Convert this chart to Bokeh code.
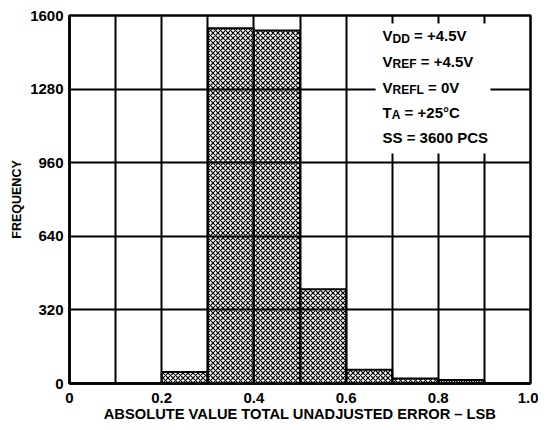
from bokeh.plotting import figure
from bokeh.models import FixedTicker, BoxAnnotation, Label, Range1d
from bokeh.embed import file_html
from bokeh.resources import INLINE

# ---- data ----
bin_left = [0.0, 0.1, 0.2, 0.3, 0.4, 0.5, 0.6, 0.7, 0.8, 0.9]
bin_right = [0.1, 0.2, 0.3, 0.4, 0.5, 0.6, 0.7, 0.8, 0.9, 1.0]
frequency = [0, 0, 50, 1545, 1535, 410, 60, 22, 15, 0]
x_ticks = [0.0, 0.2, 0.4, 0.6, 0.8, 1.0]
x_tick_labels = ["0", "0.2", "0.4", "0.6", "0.8", "1.0"]
x_grid = [0.1, 0.2, 0.3, 0.4, 0.5, 0.6, 0.7, 0.8, 0.9]
y_ticks = [0, 320, 640, 960, 1280, 1600]

FONT = "Liberation Sans"

p = figure(width=538, height=424, output_backend="svg", toolbar_location=None,
           x_range=Range1d(0, 1.0), y_range=Range1d(0, 1600),
           min_border_left=69, min_border_right=8, min_border_top=15, min_border_bottom=40)

p.quad(left=bin_left, right=bin_right, top=frequency, bottom=0,
       fill_color="white", line_color="black", line_width=2,
       hatch_pattern="diagonal_cross", hatch_color="black", hatch_scale=5, hatch_weight=1.2)

p.outline_line_color = "black"
p.outline_line_width = 2.5

# axes
p.xaxis.ticker = FixedTicker(ticks=x_ticks)
p.xaxis.major_label_overrides = {t: l for t, l in zip(x_ticks, x_tick_labels)}
p.yaxis.ticker = FixedTicker(ticks=y_ticks)
for ax in (p.xaxis, p.yaxis):
    ax.major_tick_line_color = None
    ax.minor_tick_line_color = None
    ax.major_tick_out = 0
    ax.major_tick_in = 0
    ax.minor_tick_out = 0
    ax.minor_tick_in = 0
    ax.axis_line_color = "black"
    ax.axis_line_width = 2.5
    ax.major_label_text_font = FONT
    ax.major_label_text_font_style = "bold"
    ax.major_label_text_font_size = "15px"
    ax.major_label_text_color = "black"
    ax.axis_label_text_font = FONT
    ax.axis_label_text_font_style = "bold"
    ax.axis_label_text_color = "black"

p.xaxis.axis_label = "ABSOLUTE VALUE TOTAL UNADJUSTED ERROR \u2013 LSB"
p.xaxis.axis_label_text_font_size = "14.7px"
p.xaxis.major_label_standoff = 9
p.xaxis.axis_label_standoff = 0
p.yaxis.axis_label = "FREQUENCY"
p.yaxis.axis_label_text_font_size = "12.5px"
p.yaxis.major_label_standoff = 6
p.yaxis.axis_label_standoff = 3

# grid
p.xgrid.ticker = FixedTicker(ticks=x_grid)
p.ygrid.ticker = FixedTicker(ticks=y_ticks)
for g in (p.xgrid, p.ygrid):
    g.grid_line_color = "black"
    g.grid_line_width = 2
    g.grid_line_alpha = 1.0
    g.level = "guide"

# annotation box
box = BoxAnnotation(left=0.664, right=0.913, bottom=1000, top=1565,
                    fill_color="white", fill_alpha=1.0, line_color=None)
p.add_layout(box)

MAIN = "15px"
SUB = "12px"
x0 = 0.679
lines = [
    (1511, [("V", MAIN, 0, 0), ("DD", SUB, 10.0, -3), ("= +4.5V", MAIN, 31.5, 0)]),
    (1402, [("V", MAIN, 0, 0), ("REF", SUB, 10.0, -3), ("= +4.5V", MAIN, 38.2, 0)]),
    (1289, [("V", MAIN, 0, 0), ("REFL", SUB, 10.0, -3), ("= 0V", MAIN, 45.5, 0)]),
    (1180, [("T", MAIN, 0, 0), ("A", SUB, 9.2, -3), ("= +25\u00b0C", MAIN, 22.1, 0)]),
    (1071, [("SS = 3600 PCS", MAIN, 0, 0)]),
]
for yv, parts in lines:
    for txt, size, xo, yo in parts:
        p.add_layout(Label(x=x0, y=yv, x_offset=xo, y_offset=yo, text=txt,
                           text_font=FONT, text_font_style="bold",
                           text_font_size=size, text_color="black",
                           text_baseline="alphabetic", text_align="left"))

open("out.html", "w").write(file_html(p, INLINE))
